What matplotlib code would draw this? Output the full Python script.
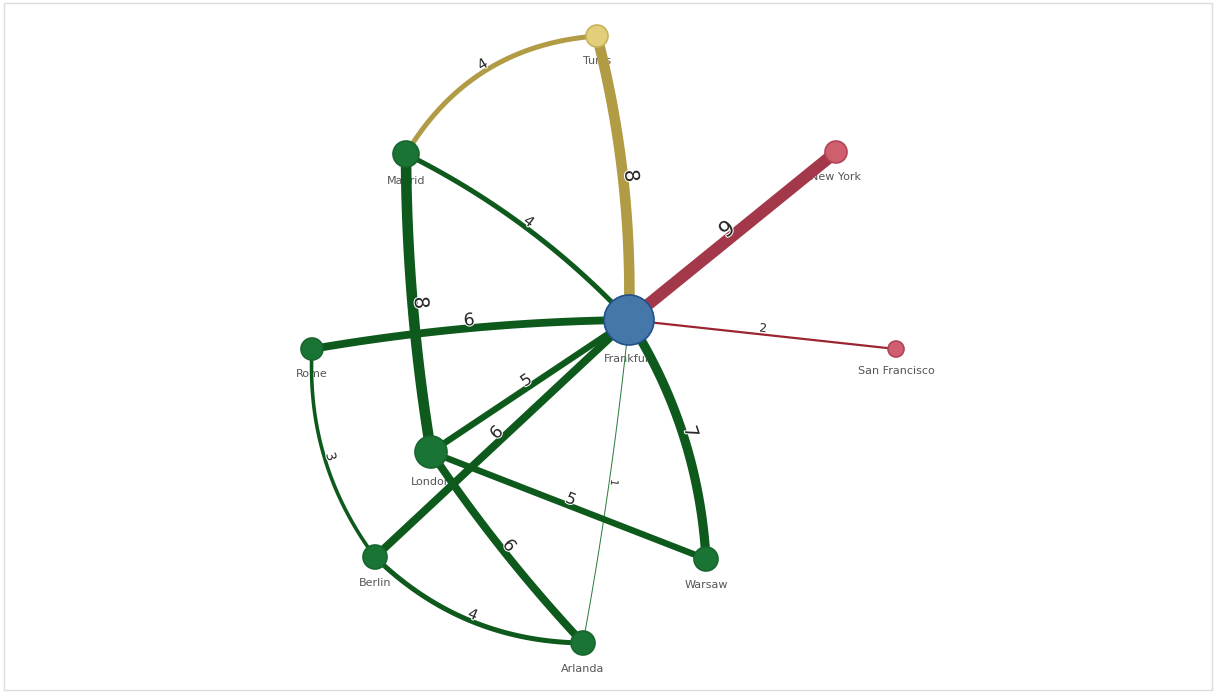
import numpy as np
import matplotlib
matplotlib.use("Agg")
import matplotlib.pyplot as plt
from matplotlib.patches import Circle, Rectangle
import matplotlib.patheffects as pe

# nodes: name, layout position (px), weight, group
nodes = ["Frankfurt", "Tunis", "New York", "San Francisco", "Madrid",
         "Rome", "London", "Berlin", "Arlanda", "Warsaw"]
node_x = [629, 597, 836, 896, 406, 312, 431, 375, 583, 706]
node_y = [320, 36, 152, 349, 154, 349, 452, 557, 643, 559]
node_weight = [25, 11, 11, 8, 13, 11, 16, 12, 12, 12]
node_group = ["hub", "africa", "us", "us", "eu", "eu", "eu", "eu", "eu", "eu"]

# edges: source, target, value
edge_src = ["Madrid", "Tunis", "Frankfurt", "Frankfurt", "Madrid", "Madrid",
            "Rome", "Rome", "London", "Berlin", "Frankfurt", "Frankfurt",
            "London", "London", "Berlin"]
edge_dst = ["Tunis", "Frankfurt", "New York", "San Francisco", "Frankfurt",
            "London", "Frankfurt", "Berlin", "Frankfurt", "Frankfurt",
            "Warsaw", "Arlanda", "Warsaw", "Arlanda", "Arlanda"]
edge_val = [4, 8, 9, 2, 4, 8, 6, 3, 5, 6, 7, 1, 5, 6, 4]
# bend of each edge (sagitta as a fraction of chord length)
edge_bend = [-0.13, -0.035, 0, 0, -0.045, 0.02, -0.02, 0.09, 0, 0,
             -0.065, -0.01, 0, 0.02, 0.1]

node_fill = {"hub": "#4677a9", "africa": "#e2cf7a", "us": "#cf5f6e", "eu": "#1a7434"}
node_edge = {"hub": "#21508c", "africa": "#c8b25a", "us": "#b04555", "eu": "#16662d"}
line_col = {"africa": "#b19b45", "us": "#a3384a", "eu": "#0e5a1c"}

fig = plt.figure(figsize=(12.14, 6.92), dpi=100)
ax = fig.add_axes([0, 0, 1, 1])
ax.set_xlim(0, 1214)
ax.set_ylim(692, 0)
ax.set_aspect("equal")
ax.axis("off")

fig.add_artist(Rectangle((4 / 1214, 2 / 692), 1208 / 1214, 687 / 692,
                         transform=fig.transFigure, fill=False,
                         edgecolor="#dcdcdc", lw=1))

pos = {n: (x, y) for n, x, y in zip(nodes, node_x, node_y)}
grp = dict(zip(nodes, node_group))

t = np.linspace(0, 1, 80)
for s, d, v, b in zip(edge_src, edge_dst, edge_val, edge_bend):
    p0 = np.array(pos[s], float)
    p1 = np.array(pos[d], float)
    dv = p1 - p0
    L = np.hypot(*dv)
    n = np.array([-dv[1], dv[0]]) / L
    ctrl = (p0 + p1) / 2 + n * 2 * b * L
    curve = ((1 - t)[:, None] ** 2 * p0 + 2 * ((1 - t) * t)[:, None] * ctrl
             + (t ** 2)[:, None] * p1)
    g = grp[d] if grp[d] != "hub" else grp[s]
    if "Tunis" in (s, d):
        g = "africa"
    col = line_col[g]
    if d == "San Francisco":
        col = "#9b2430"
    if v == 1:
        col = "#2e7d3e"
    wpx = max(1.0, 1.4 * v - 0.6)
    ax.plot(curve[:, 0], curve[:, 1], color=col, lw=wpx * 0.72,
            solid_capstyle="butt", zorder=2)
    # label at curve midpoint, rotated along the edge
    mid = 0.25 * p0 + 0.5 * ctrl + 0.25 * p1
    ang = np.degrees(np.arctan2(-dv[1], dv[0]))
    up = np.array([dv[1], -dv[0]]) / L
    lp = mid - up * (wpx * 0.15)
    ax.text(lp[0], lp[1], str(v), rotation=ang, rotation_mode="anchor",
            ha="center", va="bottom", fontsize=6.5 + v * 1.0,
            color="#2b2b2b", zorder=5,
            path_effects=[pe.withStroke(linewidth=1.5, foreground="white")])

for nm, x, y, w, g in zip(nodes, node_x, node_y, node_weight, node_group):
    ax.add_patch(Circle((x, y), w, facecolor=node_fill[g],
                        edgecolor=node_edge[g], lw=1.2, zorder=3))
    ax.text(x, y + w + 9, nm, ha="center", va="top", fontsize=8,
            color="#555555", zorder=1)

fig.savefig("out.png", dpi=100)
